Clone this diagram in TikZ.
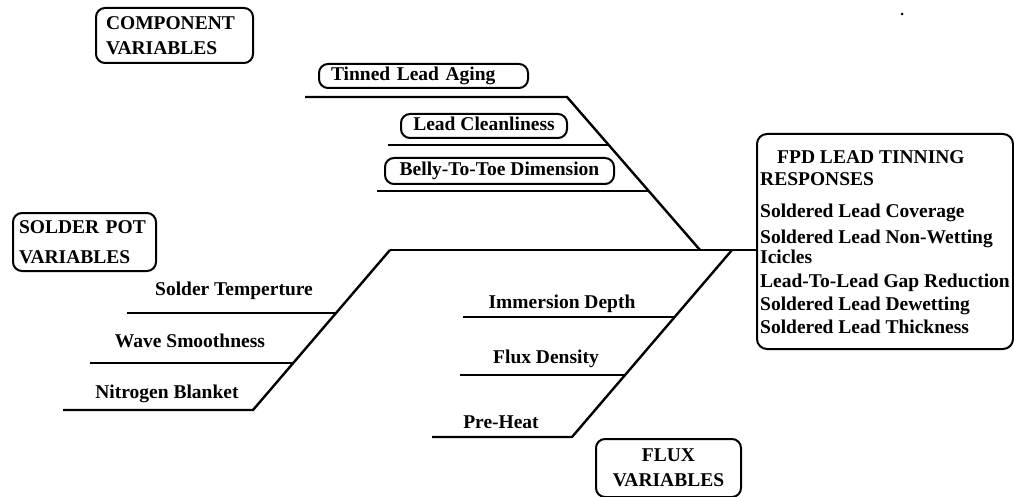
\documentclass[tikz,border=0pt]{standalone}
\usepackage{fontspec}
\setmainfont{Liberation Serif}
\begin{document}
\begin{tikzpicture}[x=1pt,y=-1pt,
  bone/.style={line width=2.4pt, line join=miter},
  txt/.style={font=\fontsize{19.5}{23}\selectfont\bfseries, inner sep=0pt},
  rbox/.style={draw, line width=2pt, rounded corners=9pt, font=\fontsize{19.5}{23}\selectfont\bfseries, inner ysep=0pt},
  lbox/.style={rbox, inner xsep=0pt, text height=13pt, text depth=4pt, align=center},
  grp/.style={rbox, inner xsep=10pt, align=left}]
\useasboundingbox (0,0) rectangle (1014,497);

% group boxes
\node[grp, font=\fontsize{19.5}{25}\selectfont\bfseries, minimum width=157, minimum height=55, text width=137, anchor=north west] (comp) at (95,7) {COMPONENT\\VARIABLES};
\node[grp, inner xsep=6pt, font=\fontsize{19.5}{30}\selectfont\bfseries, minimum width=143, minimum height=58, text width=131, anchor=north west] (solder) at (12,212) {SOLDER POT\\VARIABLES};
\node[rbox, font=\fontsize{19.5}{25}\selectfont\bfseries, inner xsep=0pt, align=center, minimum width=145, minimum height=58, anchor=north west] (flux) at (595,438) {FLUX\\VARIABLES};

% response box
\node[rbox, rounded corners=10pt, minimum width=256, minimum height=215, anchor=north west] (resp) at (756,133) {};
\node[txt, anchor=north west, align=left] (resptext) at (760,150.4) {\hspace*{17pt}FPD LEAD TINNING\\[-1pt]
RESPONSES\\[9pt]
Soldered Lead Coverage\\[3pt]
Soldered Lead Non-Wetting\\[-3pt]
Icicles\\[1pt]
Lead-To-Lead Gap Reduction\\
Soldered Lead Dewetting\\
Soldered Lead Thickness};

% spine
\coordinate (sp0) at (390,250);
\draw[bone] (sp0) -- (sp0 -| resp.west);

% component bone
\coordinate (c0) at (305,97);
\coordinate (c1) at (567,97);
\coordinate (c2) at (700,250);
\draw[bone] (c0) -- (c1) -- (c2);
\coordinate (cl0) at (388,145); \coordinate (cl1) at (609,145);
\draw[bone] (cl0) -- (cl1);
\coordinate (cb0) at (377,191); \coordinate (cb1) at (649,191);
\draw[bone] (cb0) -- (cb1);
\node[lbox, text width=185pt, align=left, inner xsep=12pt, minimum height=24, anchor=north west] (aging) at (318,63) {Tinned Lead Aging};
\node[lbox, minimum width=166, minimum height=24, anchor=north west] (clean) at (400,113) {Lead Cleanliness};
\node[lbox, minimum width=229, minimum height=26, anchor=north west] (belly) at (384,157) {Belly-To-Toe Dimension};

% solder pot bone
\coordinate (s1) at (253,410);
\coordinate (s0) at (63,410);
\draw[bone] (sp0) -- (s1) -- (s0);
\coordinate (st0) at (127,313); \coordinate (st1) at (336,313);
\draw[bone] (st0) -- (st1);
\coordinate (sw0) at (90,363); \coordinate (sw1) at (293,363);
\draw[bone] (sw0) -- (sw1);
\node[txt, anchor=base] (stemp) at (234,295) {Solder Temperture};
\node[txt, anchor=base] (swave) at (190,347) {Wave Smoothness};
\node[txt, anchor=base] (snitro) at (167,398) {Nitrogen Blanket};

% flux bone
\coordinate (f0) at (732,250);
\coordinate (f1) at (572,437);
\coordinate (f2) at (432,437);
\draw[bone] (f0) -- (f1) -- (f2);
\coordinate (fi0) at (463,317); \coordinate (fi1) at (675,317);
\draw[bone] (fi0) -- (fi1);
\coordinate (fd0) at (460,375); \coordinate (fd1) at (625,375);
\draw[bone] (fd0) -- (fd1);
\node[txt, anchor=base] (fimm) at (562,308) {Immersion Depth};
\node[txt, anchor=base] (fden) at (546,363) {Flux Density};
\node[txt, anchor=base] (fpre) at (501,428) {Pre-Heat};

% speck
\fill (902,14) circle (1.5);
\end{tikzpicture}
\end{document}
